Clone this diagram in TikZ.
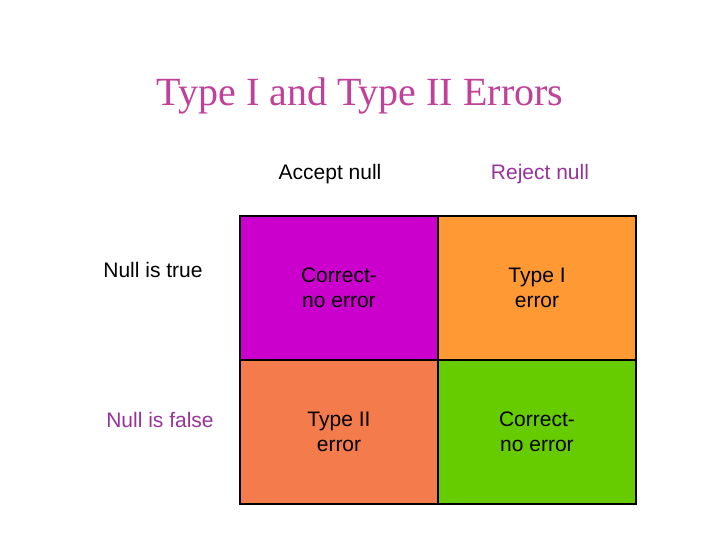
\documentclass[tikz,border=0pt]{standalone}
\usepackage{fontspec}
\setmainfont{Liberation Serif}
\newfontfamily\arial{Liberation Sans}
\definecolor{ttl}{HTML}{C0409A}
\definecolor{pur}{HTML}{993399}
\definecolor{cmag}{HTML}{CC00CC}
\definecolor{corg}{HTML}{FF9933}
\definecolor{csal}{HTML}{F47C4C}
\definecolor{cgrn}{HTML}{66CC00}
\begin{document}
\begin{tikzpicture}[x=1pt,y=-1pt,
  cell/.style={draw=black,line width=1.5pt,minimum width=198pt,minimum height=144pt,inner sep=0pt,font=\arial\fontsize{21}{25}\selectfont,align=center},
  lbl/.style={font=\arial\fontsize{21}{25}\selectfont}]
\useasboundingbox (0,0) rectangle (720,540);
\node[text=ttl,font=\fontsize{40}{46}\selectfont] (title) at (360,96) {Type I and Type II Errors};
\node[lbl] (acc) at (330,174) {Accept null};
\node[lbl,text=pur] (rej) at (540,174) {Reject null};
\node[lbl] (nt) at (153,270) {Null is true};
\node[lbl,text=pur] (nf) at (160,420) {Null is false};
\node[cell,fill=cmag] (c11) at (339,288) {Correct-\\no error};
\node[cell,fill=corg] (c12) at (537,288) {Type I\\error};
\node[cell,fill=csal] (c21) at (339,432) {Type II\\error};
\node[cell,fill=cgrn] (c22) at (537,432) {Correct-\\no error};
\end{tikzpicture}
\end{document}
